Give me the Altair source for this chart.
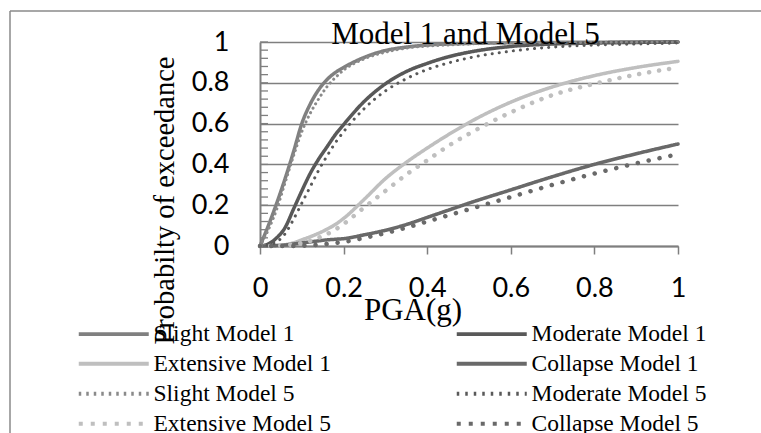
import altair as alt
import pandas as pd

# ---------------- data ----------------
pga = [0, 0.02, 0.04, 0.06, 0.08, 0.10, 0.12, 0.14, 0.16, 0.18, 0.20, 0.25, 0.30,
       0.35, 0.40, 0.45, 0.50, 0.60, 0.70, 0.80, 0.90, 1.00]

slight_m1 = [0, 0.10, 0.21, 0.33, 0.46, 0.60, 0.695, 0.765, 0.815, 0.85, 0.875, 0.925, 0.958,
             0.975, 0.985, 0.99, 0.993, 0.996, 0.998, 0.999, 1.0, 1.0]
moderate_m1 = [0, 0.01, 0.04, 0.09, 0.18, 0.27, 0.355, 0.425, 0.485, 0.545, 0.595, 0.71, 0.795,
               0.855, 0.895, 0.927, 0.95, 0.978, 0.99, 0.995, 0.998, 1.0]
extensive_m1 = [0, 0, 0.002, 0.006, 0.015, 0.03, 0.045, 0.062, 0.082, 0.105, 0.135, 0.23, 0.33,
                0.41, 0.48, 0.545, 0.605, 0.705, 0.78, 0.835, 0.875, 0.905]
collapse_m1 = [0, 0, 0.002, 0.005, 0.01, 0.015, 0.02, 0.025, 0.03, 0.033, 0.036, 0.055, 0.077,
               0.105, 0.14, 0.175, 0.21, 0.275, 0.34, 0.40, 0.452, 0.50]
slight_m5 = [0, 0.08, 0.18, 0.31, 0.44, 0.56, 0.65, 0.72, 0.78, 0.825, 0.862, 0.918, 0.95,
             0.97, 0.98, 0.985, 0.99, 0.995, 0.997, 0.998, 0.999, 1.0]
moderate_m5 = [0, 0.005, 0.02, 0.06, 0.13, 0.21, 0.29, 0.37, 0.44, 0.505, 0.56, 0.675, 0.76,
               0.82, 0.865, 0.897, 0.922, 0.955, 0.975, 0.985, 0.99, 0.995]
extensive_m5 = [0, 0, 0.001, 0.003, 0.008, 0.015, 0.025, 0.04, 0.058, 0.08, 0.108, 0.19, 0.27,
                0.35, 0.42, 0.49, 0.55, 0.655, 0.74, 0.795, 0.84, 0.875]
collapse_m5 = [0, 0, 0, 0, 0, 0.001, 0.003, 0.006, 0.01, 0.015, 0.02, 0.04, 0.063,
               0.09, 0.12, 0.15, 0.18, 0.24, 0.30, 0.355, 0.405, 0.45]

series = ["Slight Model 1", "Moderate Model 1", "Extensive Model 1", "Collapse Model 1",
          "Slight Model 5", "Moderate Model 5", "Extensive Model 5", "Collapse Model 5"]
values = [slight_m1, moderate_m1, extensive_m1, collapse_m1,
          slight_m5, moderate_m5, extensive_m5, collapse_m5]

x_ticks = [0, 0.2, 0.4, 0.6, 0.8, 1]
y_ticks = [0, 0.2, 0.4, 0.6, 0.8, 1]
minor_ticks = [0, 0.04, 0.08, 0.12, 0.16, 0.2, 0.24, 0.28, 0.32, 0.36, 0.4, 0.44, 0.48,
               0.52, 0.56, 0.6, 0.64, 0.68, 0.72, 0.76, 0.8, 0.84, 0.88, 0.92, 0.96, 1.0]

# ---------------- styles ----------------
colors = ["#808080", "#595959", "#bfbfbf", "#696969",
          "#8a8a8a", "#595959", "#bfbfbf", "#696969"]
# dashes for the plotted curves (round caps -> round dots)
round_dashes = [[1, 0], [1, 0], [1, 0], [1, 0],
                [0.1, 5], [0.1, 7], [0.1, 10], [0.1, 11]]
# dashes for the legend symbols (butt caps)
butt_dashes = [[1, 0], [1, 0], [1, 0], [1, 0],
               [2.5, 5], [2.5, 6], [4, 8], [4, 8]]

rows = []
for name, vals in zip(series, values):
    for xv, yv in zip(pga, vals):
        rows.append({"series": name, "pga": xv, "p": yv})
df = pd.DataFrame(rows)

GRAY = "#7f7f7f"
SERIF = "Liberation Serif"
SANS = "Lato"

xscale = alt.Scale(domain=[0, 1], nice=False, zero=False)
yscale = alt.Scale(domain=[0, 1], nice=False)

x_axis = alt.Axis(
    values=x_ticks, format="~g", title="PGA(g)", grid=False,
    tickSize=8, tickColor=GRAY, tickWidth=1.5, domainColor=GRAY, domainWidth=2,
    labelFont=SANS, labelFontSize=27, labelColor="black", labelPadding=21,
    labelFlush=False, labelOverlap=False,
    titleFont=SERIF, titleFontSize=31, titleFontWeight="normal", titleColor="black",
    titleX=152.5, titleY=73, titleBaseline="alphabetic", titleAlign="center",
)
y_axis = alt.Axis(
    values=y_ticks, format="~g", title="Probabilty of exceedance",
    grid=True, gridColor=GRAY, gridWidth=1.5, ticks=False,
    domainColor=GRAY, domainWidth=2,
    labelFont=SANS, labelFontSize=27, labelColor="black", labelPadding=31,
    labelFlush=False, labelOverlap=False, labelBaseline="middle",
    titleFont=SERIF, titleFontSize=28.5, titleFontWeight="normal", titleColor="black",
    titleX=-87, titleY=158, titleAngle=270, titleBaseline="alphabetic", titleAlign="center",
)

leg = alt.Legend(
    orient="none", legendX=-158, legendY=280, columns=2, direction="horizontal",
    title=None,
    symbolType="M-5,0H5", symbolSize=196, symbolStrokeWidth=3.8,
    labelFont=SERIF, labelFontSize=23.5, labelColor="black", labelOffset=28,
    columnPadding=117, rowPadding=5, labelLimit=400,
)

X = alt.X("pga:Q", scale=xscale, axis=x_axis)
Y = alt.Y("p:Q", scale=yscale, axis=y_axis)


def line_layer(names, width):
    return (
        alt.Chart(df)
        .transform_filter(alt.FieldOneOfPredicate(field="series", oneOf=names))
        .mark_line(interpolate="monotone", strokeWidth=width, strokeCap="round")
        .encode(
            x=X, y=Y,
            color=alt.Color("series:N", scale=alt.Scale(domain=series, range=colors),
                            sort=series, legend=None),
            strokeDash=alt.StrokeDash("series:N",
                                      scale=alt.Scale(domain=series, range=round_dashes),
                                      sort=series, legend=None),
            order=alt.Order("pga:Q"),
        )
    )


solid = line_layer(series[:4], 3.5)
small_dots = line_layer(series[4:6], 3.0)
big_dots = line_layer(series[6:], 4.5)

# legend-only layer: the start point of every curve (a zero-length path, invisible)
legend_layer = (
    alt.Chart(df)
    .transform_filter("datum.pga == 0")
    .mark_line(strokeWidth=3.5, strokeCap="butt")
    .encode(
        x=X, y=Y,
        color=alt.Color("series:N", scale=alt.Scale(domain=series, range=colors),
                        sort=series, legend=leg),
        strokeDash=alt.StrokeDash("series:N",
                                  scale=alt.Scale(domain=series, range=butt_dashes),
                                  sort=series, legend=leg),
    )
)

ticks = alt.Chart(pd.DataFrame({"p": minor_ticks})).mark_rule(
    color=GRAY, strokeWidth=1.3
).encode(y=Y, x=alt.value(0), x2=alt.value(8))

one = alt.Data(values=[{"k": 1}])
frame_top = alt.Chart(one).mark_rule(color="#8a8a8a", strokeWidth=1.5).encode(
    x=alt.value(-250), x2=alt.value(510), y=alt.value(-31))
frame_left = alt.Chart(one).mark_rule(color="#8a8a8a", strokeWidth=1.5).encode(
    x=alt.value(-250), y=alt.value(-31), y2=alt.value(400))

title = alt.Chart(one).mark_text(
    text="Model 1 and Model 5", font=SERIF, fontSize=31, baseline="alphabetic",
    align="center", color="black"
).encode(x=alt.value(205.5), y=alt.value(2))

chart = (
    alt.layer(ticks, solid, small_dots, big_dots, legend_layer, frame_top, frame_left, title)
    .resolve_scale(color="independent", strokeDash="independent")
    .properties(
        width=418, height=204,
        padding={"left": 260, "top": 42, "right": 83, "bottom": 187},
        autosize=alt.AutoSizeParams(type="none"),
        background="white",
    )
    .configure_view(strokeWidth=0)
)

chart.save("out.html", embed_options={"renderer": "svg", "actions": False})
